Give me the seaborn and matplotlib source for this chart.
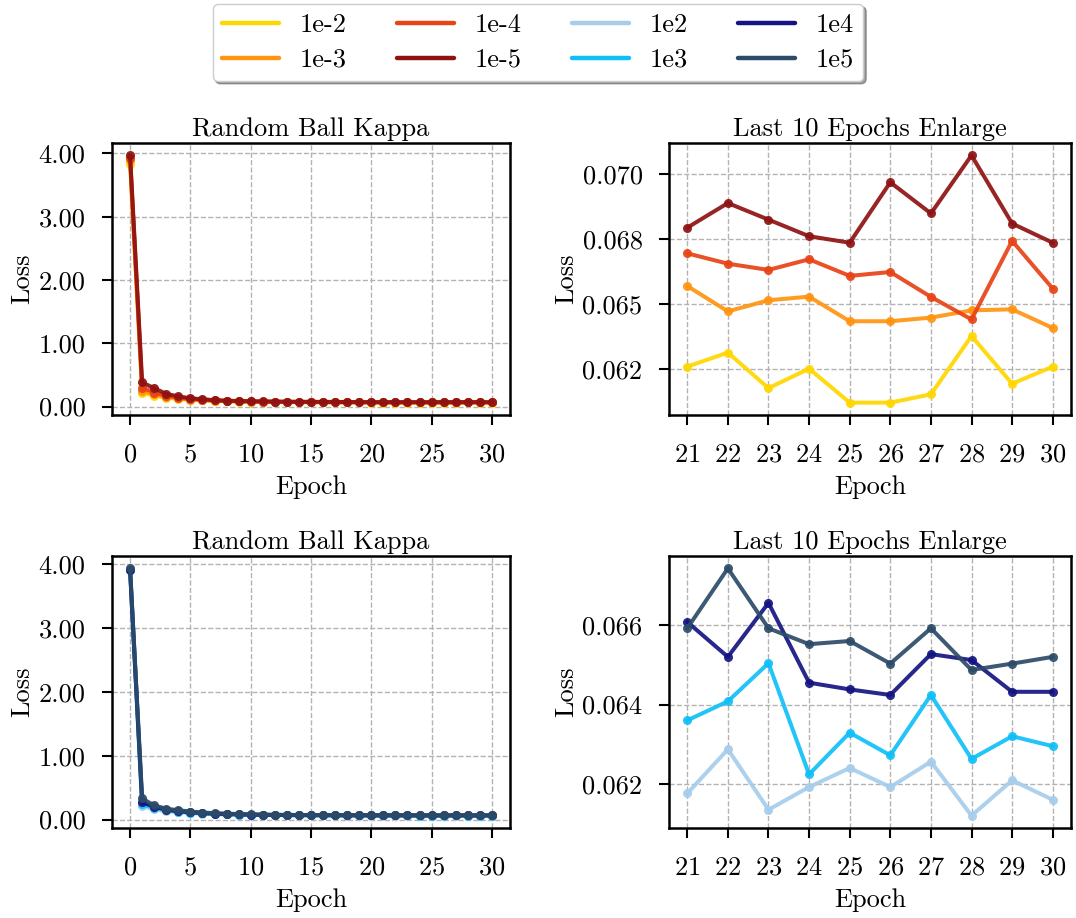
import numpy as np
import pandas as pd
import matplotlib
matplotlib.use("Agg")
import matplotlib.pyplot as plt
from matplotlib.lines import Line2D
from matplotlib.ticker import FormatStrFormatter
import seaborn as sns

epochs = list(range(31))

# top group (small learning rates)
loss_1e_2 = [3.84, 0.22, 0.17, 0.14, 0.12, 0.105, 0.095, 0.088, 0.082, 0.078, 0.074, 0.072, 0.070, 0.069,
             0.068, 0.067, 0.066, 0.065, 0.064, 0.0635, 0.063,
             0.06258, 0.06312, 0.06175, 0.0625, 0.06119, 0.06119, 0.06151, 0.06376, 0.06192, 0.06258]
loss_1e_3 = [3.90, 0.25, 0.19, 0.15, 0.13, 0.11, 0.10, 0.092, 0.086, 0.081, 0.077, 0.075, 0.073, 0.071,
             0.070, 0.069, 0.068, 0.067, 0.067, 0.066, 0.066,
             0.06569, 0.06471, 0.06514, 0.06528, 0.06433, 0.06433, 0.06447, 0.06475, 0.06479, 0.06407]
loss_1e_4 = [3.93, 0.30, 0.22, 0.17, 0.14, 0.12, 0.105, 0.096, 0.089, 0.084, 0.080, 0.077, 0.075, 0.073,
             0.072, 0.071, 0.070, 0.069, 0.068, 0.068, 0.067,
             0.06695, 0.06655, 0.06631, 0.06672, 0.06608, 0.06623, 0.06527, 0.06440, 0.06743, 0.06559]
loss_1e_5 = [3.97, 0.38, 0.29, 0.20, 0.16, 0.13, 0.115, 0.10, 0.092, 0.087, 0.083, 0.080, 0.078, 0.076,
             0.075, 0.074, 0.073, 0.072, 0.071, 0.070, 0.069,
             0.06794, 0.06889, 0.06825, 0.06761, 0.06736, 0.06969, 0.06849, 0.07073, 0.06810, 0.06736]

# bottom group (large learning rates)
loss_1e2 = [3.90, 0.21, 0.16, 0.13, 0.115, 0.10, 0.09, 0.084, 0.079, 0.075, 0.072, 0.070, 0.068, 0.067,
            0.066, 0.065, 0.064, 0.064, 0.063, 0.063, 0.062,
            0.06176, 0.06287, 0.06135, 0.06192, 0.06240, 0.06192, 0.06256, 0.06120, 0.06209, 0.06160]
loss_1e3 = [3.91, 0.24, 0.18, 0.145, 0.125, 0.11, 0.097, 0.089, 0.083, 0.078, 0.075, 0.072, 0.070, 0.069,
            0.068, 0.067, 0.066, 0.066, 0.065, 0.065, 0.064,
            0.06360, 0.06408, 0.06504, 0.06224, 0.06329, 0.06272, 0.06424, 0.06263, 0.06320, 0.06295]
loss_1e4 = [3.90, 0.27, 0.20, 0.155, 0.13, 0.115, 0.10, 0.092, 0.086, 0.081, 0.077, 0.074, 0.072, 0.071,
            0.070, 0.069, 0.068, 0.068, 0.067, 0.067, 0.066,
            0.06608, 0.06520, 0.06656, 0.06455, 0.06438, 0.06424, 0.06527, 0.06512, 0.06432, 0.06432]
loss_1e5 = [3.93, 0.33, 0.22, 0.17, 0.145, 0.125, 0.11, 0.10, 0.092, 0.086, 0.081, 0.078, 0.075, 0.073,
            0.072, 0.071, 0.070, 0.069, 0.068, 0.068, 0.067,
            0.06592, 0.06743, 0.06592, 0.06552, 0.06560, 0.06503, 0.06592, 0.06487, 0.06503, 0.06520]

top_labels = ["1e-2", "1e-3", "1e-4", "1e-5"]
bottom_labels = ["1e2", "1e3", "1e4", "1e5"]
top_series = [loss_1e_2, loss_1e_3, loss_1e_4, loss_1e_5]
bottom_series = [loss_1e2, loss_1e3, loss_1e4, loss_1e5]

colors = {
    "1e-2": "#FFD700", "1e-3": "#FF9410", "1e-4": "#E84315", "1e-5": "#8E1212",
    "1e2": "#A6CDEC", "1e3": "#10BFF8", "1e4": "#141482", "1e5": "#2C4B68",
}

title_full = "Random Ball Kappa"
title_zoom = "Last 10 Epochs Enlarge"
xlabel = "Epoch"
ylabel = "Loss"


def make_df(labels, series):
    rows = []
    for lab, vals in zip(labels, series):
        for e, v in zip(epochs, vals):
            rows.append({"Epoch": e, "Loss": v, "lr": lab})
    return pd.DataFrame(rows)


df_top = make_df(top_labels, top_series)
df_bot = make_df(bottom_labels, bottom_series)

sns.set_theme(style="ticks")
plt.rcParams["font.family"] = ["serif"]
plt.rcParams["font.serif"] = ["cmr10", "DejaVu Serif"]
plt.rcParams["mathtext.fontset"] = "cm"
plt.rcParams["axes.formatter.use_mathtext"] = True
plt.rcParams["axes.unicode_minus"] = False
for k in ["text.color", "axes.labelcolor", "xtick.color", "ytick.color", "axes.edgecolor"]:
    plt.rcParams[k] = "black"

W, H = 1076, 918
fig = plt.figure(figsize=(W / 100, H / 100), dpi=100)


def pos(x0, y0, x1, y1):
    return [x0 / W, 1 - y1 / H, (x1 - x0) / W, (y1 - y0) / H]


axes = [
    fig.add_axes(pos(112, 143, 510, 415)),
    fig.add_axes(pos(669, 143, 1071, 415)),
    fig.add_axes(pos(112, 556, 510, 828)),
    fig.add_axes(pos(669, 556, 1071, 828)),
]

FS = 19


def draw(ax, df, labels, title, zoom):
    d = df[df["Epoch"] >= 21] if zoom else df
    pal = {l: colors[l] for l in labels}
    sns.lineplot(data=d, x="Epoch", y="Loss", hue="lr", hue_order=labels, palette=pal,
                 marker="o", markersize=6.5, markeredgewidth=0, linewidth=2.9, alpha=0.92,
                 legend=False, ax=ax)
    ax.set_title(title, fontsize=FS, pad=5)
    ax.set_xlabel(xlabel, fontsize=FS, labelpad=6)
    ax.set_ylabel(ylabel, fontsize=FS, labelpad=3)
    ax.grid(True, linestyle="--", color="#b3b3b3", linewidth=1.0)
    ax.set_axisbelow(True)
    for s in ax.spines.values():
        s.set_linewidth(1.8)
        s.set_color("black")
    ax.tick_params(labelsize=FS, width=1.5, length=7, direction="out")
    ax.tick_params(axis="x", pad=13)
    ax.tick_params(axis="y", pad=12)
    if zoom:
        ax.set_xticks(list(range(21, 31)))
        ax.yaxis.set_major_formatter(FormatStrFormatter("%.3f"))
    else:
        ax.set_xticks([0, 5, 10, 15, 20, 25, 30])
        ax.set_yticks([0, 1, 2, 3, 4])
        ax.yaxis.set_major_formatter(FormatStrFormatter("%.2f"))


draw(axes[0], df_top, top_labels, title_full, False)
draw(axes[1], df_top, top_labels, title_zoom, True)
draw(axes[2], df_bot, bottom_labels, title_full, False)
draw(axes[3], df_bot, bottom_labels, title_zoom, True)
axes[1].set_yticks([0.0625, 0.065, 0.0675, 0.070])
axes[3].set_yticks([0.062, 0.064, 0.066])

all_labels = top_labels + bottom_labels
handles = [Line2D([0], [0], color=colors[l], linewidth=3.2) for l in all_labels]
leg = fig.legend(handles, all_labels, loc="upper center", bbox_to_anchor=(0.5, 1.0), ncol=4,
                 fontsize=FS, frameon=True, fancybox=True, shadow=True, handlelength=2.15,
                 columnspacing=1.9, handletextpad=0.8, borderpad=0.35, labelspacing=0.42,
                 borderaxespad=0.15)
leg.get_frame().set_edgecolor("#cccccc")

fig.savefig("out.png", dpi=100)
